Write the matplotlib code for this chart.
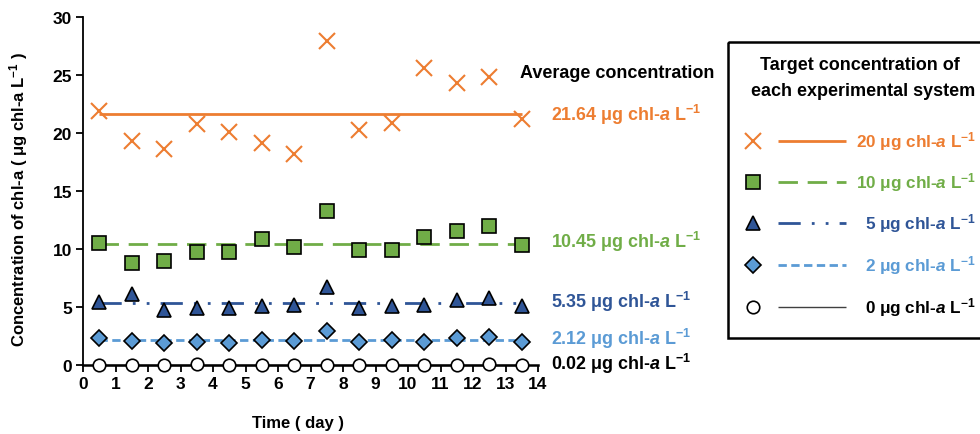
import matplotlib
matplotlib.use('Agg')
import matplotlib.pyplot as plt
from matplotlib.patches import Rectangle

plt.rcParams['font.family'] = ['Liberation Sans', 'DejaVu Sans']
plt.rcParams['font.weight'] = 'bold'
plt.rcParams['mathtext.fontset'] = 'custom'
plt.rcParams['mathtext.rm'] = 'Liberation Sans:bold'
plt.rcParams['mathtext.it'] = 'Liberation Sans:italic:bold'
plt.rcParams['mathtext.bf'] = 'Liberation Sans:bold'

# ---------------- data ----------------
days = [0.5, 1.5, 2.5, 3.5, 4.5, 5.5, 6.5, 7.5, 8.5, 9.5, 10.5, 11.5, 12.5, 13.5]
conc_20 = [21.9, 19.3, 18.6, 20.8, 20.1, 19.1, 18.2, 27.9, 20.3, 20.9, 25.6, 24.3, 24.8, 21.2]
conc_10 = [10.55, 8.8, 9.0, 9.7, 9.75, 10.85, 10.15, 13.3, 9.9, 9.95, 11.0, 11.55, 12.0, 10.35]
conc_5 = [5.45, 6.1, 4.7, 4.95, 4.95, 5.1, 5.15, 6.7, 4.95, 5.1, 5.15, 5.6, 5.75, 5.05]
conc_2 = [2.35, 2.1, 1.88, 2.0, 1.88, 2.15, 2.1, 2.95, 2.0, 2.15, 2.0, 2.3, 2.45, 1.95]
conc_0 = [0.0, 0.0, 0.0, 0.12, 0.0, 0.0, 0.0, 0.02, 0.0, 0.0, 0.0, 0.0, 0.12, 0.0]
avg_values = [21.64, 10.45, 5.35, 2.12, 0.02]
target_labels = ['20', '10', '5', '2', '0']
avg_labels = ['21.64', '10.45', '5.35', '2.12', '0.02']
x_ticks = list(range(0, 15))
y_ticks = [0, 5, 10, 15, 20, 25, 30]

series = [conc_20, conc_10, conc_5, conc_2, conc_0]
colors = ['#ED7D31', '#70AD47', '#2F5597', '#5B9BD5', '#000000']
text_colors = ['#ED7D31', '#70AD47', '#2F5597', '#5B9BD5', '#000000']
markers = ['x', 's', '^', 'D', 'o']
mfaces = ['#ED7D31', '#70AD47', '#2F5597', '#5B9BD5', 'white']
msizes = [11, 9.5, 10, 8.5, 9]
linestyles = ['-', (0, (7, 3.5)), (0, (8, 4, 1, 4, 1, 4)), (0, (3, 1.6)), '-']
linewidths = [2.0, 2.0, 2.0, 2.0, 1.0]

W, H = 980, 435
fig = plt.figure(figsize=(W / 100, H / 100), dpi=100)
ax = fig.add_axes([83 / W, 1 - 366 / H, (538 - 83) / W, (366 - 18) / H])

for vals, avg, c, m, mf, ms, ls, lw in zip(series, avg_values, colors, markers,
                                            mfaces, msizes, linestyles, linewidths):
    ax.plot([days[0], days[-1]], [avg, avg], color=c, ls=ls, lw=lw, zorder=2,
            solid_capstyle='butt', clip_on=False)
    if m == 'x':
        ax.plot(days, vals, ls='none', marker=m, ms=ms, mew=1.5, color=c,
                zorder=3, clip_on=False)
    else:
        ax.plot(days, vals, ls='none', marker=m, ms=ms, mfc=mf, mec='black',
                mew=1.2, zorder=3, clip_on=False)

ax.set_xlim(0, 14)
ax.set_ylim(0, 30)
ax.set_xticks(x_ticks)
ax.set_yticks(y_ticks)
ax.spines['top'].set_visible(False)
ax.spines['right'].set_visible(False)
ax.spines['left'].set_linewidth(1.3)
ax.spines['bottom'].set_linewidth(1.8)
ax.tick_params(direction='out', length=5, width=1.3, labelsize=12.5, pad=3)
for lab in ax.get_xticklabels() + ax.get_yticklabels():
    lab.set_fontweight('bold')

ax.set_xlabel('Time ( day )', fontsize=12, fontweight='bold')
ax.xaxis.set_label_coords((298 - 83) / 455, -0.145)
ax.set_ylabel(r'Concentration of chl-a ( μg chl-a L$^{-1}$ )',
              fontsize=12, fontweight='bold')
ax.yaxis.set_label_coords(-(83 - 30) / 455, 0.477)

# average annotations
ax.text(13.45, 25.2, 'Average concentration', fontsize=13, fontweight='bold',
        ha='left', va='center', clip_on=False)
avg_text_offsets = [0.0, 0.25, 0.15, 0.25, 0.15]
for avg, lab, tc, off in zip(avg_values, avg_labels, text_colors, avg_text_offsets):
    ax.text(14.4, avg + off, lab + r' μg chl-$\mathit{a}$ L$^{-1}$', color=tc,
            fontsize=12.9, fontweight='bold', ha='left', va='center', clip_on=False)

# manual legend in pixel coordinates
lax = fig.add_axes([0, 0, 1, 1])
lax.set_xlim(0, W)
lax.set_ylim(H, 0)
lax.axis('off')
lax.add_patch(Rectangle((728, 43), 300, 296, fill=False, lw=1.8, ec='black'))
lax.text(860, 65, 'Target concentration of', fontsize=13, fontweight='bold',
         ha='center', va='center')
lax.text(863, 92, 'each experimental system', fontsize=13, fontweight='bold',
         ha='center', va='center')
row_y = [142, 183, 224, 266, 308]
legend_lc = ['#ED7D31', '#70AD47', '#2F5597', '#5B9BD5', '#404040']
for ry, tl, c, lc, m, mf, ms, ls, lw, tc in zip(row_y, target_labels, colors, legend_lc,
                                                markers, mfaces, msizes, linestyles,
                                                linewidths, text_colors):
    lax.plot([778, 846], [ry, ry], color=lc, ls=ls, lw=lw, solid_capstyle='butt')
    if m == 'x':
        lax.plot([753], [ry], ls='none', marker=m, ms=ms, mew=1.5, color=c)
    else:
        lax.plot([753], [ry], ls='none', marker=m, ms=ms, mfc=mf, mec='black', mew=1.2)
    lax.text(976, ry, tl + r' μg chl-$\mathit{a}$ L$^{-1}$', color=tc, fontsize=12.3,
             fontweight='bold', ha='right', va='center')

fig.savefig('out.png', dpi=100)
